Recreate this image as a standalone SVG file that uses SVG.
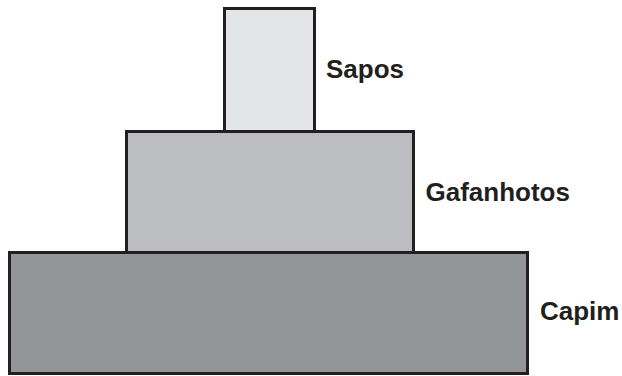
<svg xmlns="http://www.w3.org/2000/svg" width="622" height="376" viewBox="0 0 622 376">
<style>
.box{stroke:#231f20;stroke-width:3}
.lbl{font-family:"Liberation Sans",Arial,sans-serif;font-weight:bold;font-size:26px;fill:#231f20}
</style>
<rect width="622" height="376" fill="#ffffff"/>
<g id="capim">
<rect class="box" x="9.5" y="252.5" width="518" height="121" fill="#939598"/>
<text class="lbl" x="540" y="320">Capim</text>
</g>
<g id="gafanhotos">
<rect class="box" x="126.5" y="131.5" width="287" height="121" fill="#bcbdc0"/>
<text class="lbl" x="425.5" y="201">Gafanhotos</text>
</g>
<g id="sapos">
<rect class="box" x="224.5" y="8.5" width="90" height="123" fill="#e4e5e7"/>
<text class="lbl" x="326" y="77.5">Sapos</text>
</g>
<g id="connectors"></g>
</svg>
